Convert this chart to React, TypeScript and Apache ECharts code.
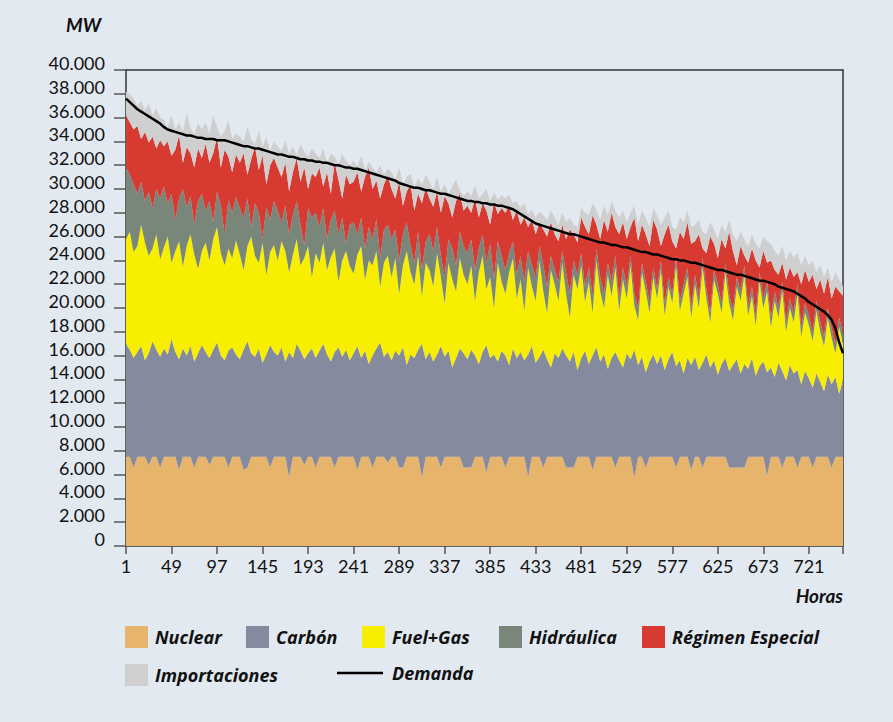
import React, { useEffect, useRef } from "react";
import * as echarts from "echarts";

// One sample every 4 hours; values below in hundreds of MW
const STEP_HOURS = 4;
const LABEL_EVERY = 12; // 12 samples = 48 hours between labelled ticks

// Nuclear generation (hundreds of MW)
const nuclear = [
  75,75,66,75,75,75,68,75,75,66,
  75,75,75,75,64,75,75,75,66,75,
  75,75,68,75,75,75,75,66,75,75,
  75,64,66,75,75,75,75,75,66,75,
  75,75,75,58,75,75,75,68,75,75,
  66,75,75,75,75,66,75,75,75,75,
  75,64,75,75,75,66,75,75,75,70,
  75,75,66,66,75,75,75,75,58,75,
  75,75,75,66,75,75,75,75,75,66,
  66,66,75,75,75,62,75,75,75,75,
  66,75,75,75,75,75,58,75,75,75,
  66,75,75,75,75,75,66,66,66,75,
  75,75,75,64,75,75,75,75,75,66,
  75,75,75,75,58,75,75,66,75,75,
  75,75,75,75,75,66,75,75,75,64,
  75,75,66,75,75,75,75,75,75,66,
  66,66,66,66,75,75,75,75,75,59,
  75,75,75,66,75,75,75,66,75,75,
  75,66,75,75,75,75,66,75,75,75,
];

// Upper edge of each stacked band (hundreds of MW)
const carbonTop = [
  170,165,158,163,168,156,162,172,165,159,
  166,161,174,163,157,166,160,168,155,162,
  169,163,158,165,171,160,156,164,167,161,
  157,165,172,162,159,166,154,161,169,163,
  160,167,155,163,158,170,164,157,162,166,
  158,164,170,161,155,163,167,159,165,156,
  162,168,158,164,153,160,166,171,159,163,
  156,164,160,167,152,161,158,165,170,157,
  163,155,161,168,159,164,150,158,166,162,
  157,165,160,153,163,169,158,161,155,164,
  160,152,166,158,163,156,161,168,154,159,
  165,157,150,162,158,166,160,155,163,148,
  158,164,153,160,167,155,161,149,158,163,
  156,150,162,157,165,152,159,146,155,161,
  153,160,148,157,163,151,156,145,158,152,
  159,148,154,161,150,156,144,153,158,147,
  152,157,145,153,149,158,143,151,155,146,
  150,142,154,147,139,152,145,148,136,147,
  141,133,145,138,130,144,136,142,128,140,
];

const fuelGasTop = [
  258,264,247,252,270,255,244,250,262,241,
  251,260,238,248,256,235,252,262,245,233,
  248,255,240,258,268,246,236,250,242,257,
  245,232,252,260,244,238,255,228,247,253,
  240,256,248,230,245,258,236,242,252,226,
  246,238,255,232,243,250,222,240,248,235,
  229,245,252,224,240,236,248,218,238,244,
  226,242,212,236,248,230,220,244,210,238,
  232,218,246,226,204,238,224,214,242,228,
  220,236,206,230,244,216,226,200,238,222,
  212,230,242,208,224,198,234,218,206,240,
  214,196,232,220,206,238,212,192,228,216,
  236,205,222,196,240,214,200,228,210,234,
  198,224,208,236,202,190,230,214,196,226,
  208,232,194,218,204,236,198,212,226,192,
  220,200,234,208,188,224,212,196,230,204,
  190,218,206,228,194,210,185,222,200,214,
  184,206,192,215,180,200,188,212,176,196,
  186,172,198,180,168,192,175,162,184,170,
];

const hydroTop = [
  318,312,304,296,306,290,298,284,300,292,
  302,288,296,274,292,300,285,294,270,290,
  296,282,290,272,298,286,262,291,280,293,
  284,276,292,268,288,280,258,285,274,290,
  282,272,286,262,278,290,270,252,284,276,
  280,268,284,258,274,282,262,276,254,270,
  272,262,276,250,268,258,275,242,266,270,
  258,266,240,262,272,252,238,264,232,256,
  262,248,268,244,226,258,250,236,264,252,
  246,258,232,250,262,238,254,224,256,244,
  232,246,256,228,244,222,248,236,226,252,
  236,218,244,232,222,248,230,212,240,228,
  246,218,234,210,250,226,212,238,222,244,
  208,234,218,244,212,200,238,222,206,234,
  216,240,204,226,212,244,206,220,234,200,
  228,208,242,216,196,232,220,204,238,212,
  198,226,214,236,202,218,193,230,208,222,
  192,214,200,222,188,208,196,220,184,204,
  194,180,206,188,176,200,183,170,192,178,
];

const specialTop = [
  362,356,350,353,342,348,339,344,334,341,
  336,340,328,333,345,322,335,330,318,334,
  326,338,322,330,344,318,333,327,314,329,
  322,330,312,325,336,316,328,304,320,326,
  318,310,322,298,314,326,306,318,300,313,
  310,318,302,314,296,322,308,292,312,304,
  306,314,298,310,318,300,307,292,304,311,
  300,292,306,286,298,304,282,296,288,301,
  292,285,298,280,294,288,276,290,296,282,
  286,280,292,276,288,282,270,289,279,284,
  280,286,274,282,270,276,268,274,262,272,
  266,260,272,262,256,270,258,266,262,255,
  276,268,262,278,270,258,274,264,280,268,
  262,272,258,268,276,256,270,262,252,274,
  266,252,262,270,256,250,264,258,272,254,
  256,262,250,246,260,254,242,258,250,264,
  248,236,252,244,238,250,240,234,248,238,
  240,232,228,238,224,234,226,230,220,232,
  222,228,216,224,212,226,208,218,214,210,
];

const importsTop = [
  382,380,376,370,374,366,372,362,368,360,
  358,352,362,350,356,348,364,351,346,355,
  350,356,346,362,352,344,349,358,342,347,
  344,340,352,342,338,349,336,344,332,340,
  336,332,341,330,336,328,338,331,327,334,
  330,326,334,322,330,327,321,329,324,320,
  324,319,328,316,323,318,314,320,312,317,
  314,308,318,304,310,313,302,309,304,312,
  306,300,310,298,304,296,302,308,299,294,
  298,294,303,292,296,300,290,297,291,295,
  292,295,288,290,284,288,279,283,276,281,
  278,274,282,276,270,280,272,276,270,268,
  284,280,278,288,282,274,286,278,290,282,
  276,282,272,280,286,270,282,276,268,284,
  278,270,276,282,268,266,276,272,282,268,
  270,274,264,262,272,266,258,270,264,274,
  262,256,264,258,252,262,254,250,260,256,
  254,248,244,252,240,248,242,246,236,244,
  236,240,230,236,226,234,222,230,224,218,
];

// Demand curve (hundreds of MW)
const demand = [
  376,373,370,367,365,363,361,359,357,355,
  352,350,349,348,347,346,345,345,344,343,
  343,342,342,342,341,341,341,340,339,338,
  337,336,336,335,334,334,333,332,331,330,
  329,329,328,327,327,326,325,325,324,324,
  323,323,322,322,321,320,320,319,318,318,
  317,317,316,315,314,313,312,311,310,309,
  308,307,305,304,303,302,301,301,300,299,
  299,298,297,296,296,295,294,293,292,291,
  290,290,289,289,288,288,287,287,286,286,
  285,284,283,281,279,277,275,273,271,270,
  269,268,267,266,265,264,263,262,262,261,
  260,259,258,257,256,255,255,254,253,253,
  252,251,251,250,249,248,247,247,246,245,
  245,244,243,242,241,241,240,240,239,238,
  238,237,236,235,234,233,232,232,231,230,
  229,228,228,227,226,225,224,223,223,222,
  221,220,218,217,216,215,214,212,210,208,
  205,203,201,199,197,194,190,183,171,162,
];

const seriesNames = [
  "Nuclear",
  "Carbón",
  "Fuel+Gas",
  "Hidráulica",
  "Régimen Especial",
  "Importaciones",
];
const seriesColors = ["#e6b56b", "#868a9e", "#f7ee00", "#79867a", "#d63a30", "#cfcfd0"];
const demandName = "Demanda";

const FONT = "Lato, 'Open Sans', sans-serif";
const LEGEND_FONT = "'Open Sans', Lato, sans-serif";

export default function App() {
  const ref = useRef<HTMLDivElement>(null);

  useEffect(() => {
    if (!ref.current) return;
    const chart = echarts.init(ref.current, undefined, { renderer: "svg" });

    const tops = [nuclear, carbonTop, fuelGasTop, hydroTop, specialTop, importsTop];
    const n = Math.min(...tops.map((t) => t.length), demand.length);
    const hours = Array.from({ length: n }, (_, i) => String(i * STEP_HOURS + 1));
    const bandValues = tops.map((t, k) =>
      Array.from({ length: n }, (_, i) => {
        const below = k === 0 ? 0 : tops[k - 1][i];
        return (t[i] - below) * 100;
      })
    );

    const areaSeries = seriesNames.map((name, k) => ({
      name,
      type: "line",
      stack: "gen",
      data: bandValues[k],
      symbol: "none",
      showSymbol: false,
      lineStyle: { width: 0 },
      itemStyle: { color: seriesColors[k] },
      color: seriesColors[k],
      areaStyle: { color: seriesColors[k], opacity: 1 },
      silent: true,
      z: 2,
    }));

    const textStyle = {
      fontFamily: LEGEND_FONT,
      fontSize: 18,
      fontStyle: "italic",
      fontWeight: "bold",
      color: "#111",
      padding: [0, 0, 0, 2],
    };
    const legendPos = [
      [125, 626],
      [246, 626],
      [362, 626],
      [499, 626],
      [642, 626],
      [125, 664],
    ];
    const legends: any[] = seriesNames.map((name, k) => ({
      data: [name],
      left: legendPos[k][0],
      top: legendPos[k][1],
      padding: 0,
      icon: "rect",
      itemWidth: 23,
      itemHeight: 22,
      textStyle,
      selectedMode: false,
    }));
    legends.push({
      data: [demandName],
      left: 337,
      top: 664,
      padding: 0,
      icon: "path://M0,0 L46,0 L46,2.5 L0,2.5 Z",
      itemWidth: 46,
      itemHeight: 22,
      textStyle: { ...textStyle, padding: [0, 0, 0, 4] },
      selectedMode: false,
    });

    const axisLineStyle = { color: "#333", width: 1.5 };
    const labelStyle = { fontFamily: FONT, fontSize: 18, color: "#111" };

    chart.setOption({
      animation: false,
      backgroundColor: "#e2e9f1",
      grid: { left: 126, right: 50, top: 70, bottom: 176, containLabel: false },
      legend: legends,
      xAxis: [
        {
          type: "category",
          data: hours,
          boundaryGap: false,
          axisLine: { show: true, onZero: false, lineStyle: axisLineStyle },
          axisTick: {
            show: true,
            length: 8,
            interval: (i: number) => i % LABEL_EVERY === 0 || i === n - 1,
            lineStyle: { color: "#555", width: 1.5 },
          },
          axisLabel: {
            ...labelStyle,
            margin: 11,
            interval: (i: number) => i % LABEL_EVERY === 0,
          },
          splitLine: { show: false },
        },
        {
          type: "category",
          data: hours,
          boundaryGap: false,
          position: "top",
          axisLine: { show: true, onZero: false, lineStyle: axisLineStyle },
          axisTick: { show: false },
          axisLabel: { show: false },
          splitLine: { show: false },
        },
      ],
      yAxis: [
        {
          type: "value",
          min: 0,
          max: 40000,
          interval: 2000,
          axisLine: { show: true, onZero: false, lineStyle: axisLineStyle },
          axisTick: { show: true, length: 12, lineStyle: { color: "#555", width: 1.5 } },
          axisLabel: {
            ...labelStyle,
            margin: 21,
            verticalAlign: "bottom",
            lineHeight: 14,
            formatter: (v: number) => (v === 0 ? "0" : `${v / 1000}.000`),
          },
          splitLine: { show: false },
        },
        {
          type: "value",
          position: "right",
          min: 0,
          max: 40000,
          axisLine: { show: true, onZero: false, lineStyle: axisLineStyle },
          axisTick: { show: false },
          axisLabel: { show: false },
          splitLine: { show: false },
        },
      ],
      graphic: [
        {
          type: "text",
          left: 66,
          top: 15,
          style: { text: "MW", font: `italic bold 19px ${FONT}`, fill: "#111" },
        },
        {
          type: "text",
          right: 50,
          top: 586,
          style: { text: "Horas", font: `italic bold 19px ${FONT}`, fill: "#111" },
        },
      ],
      series: [
        ...areaSeries,
        {
          name: demandName,
          type: "line",
          data: demand.slice(0, n).map((d) => d * 100),
          symbol: "none",
          showSymbol: false,
          color: "#000",
          itemStyle: { color: "#000" },
          lineStyle: { color: "#000", width: 2.5 },
          silent: true,
          z: 5,
        },
      ],
    });

    return () => chart.dispose();
  }, []);

  return (
    <div
      ref={ref}
      style={{ position: "fixed", left: 0, top: 0, width: 893, height: 722 }}
    />
  );
}
